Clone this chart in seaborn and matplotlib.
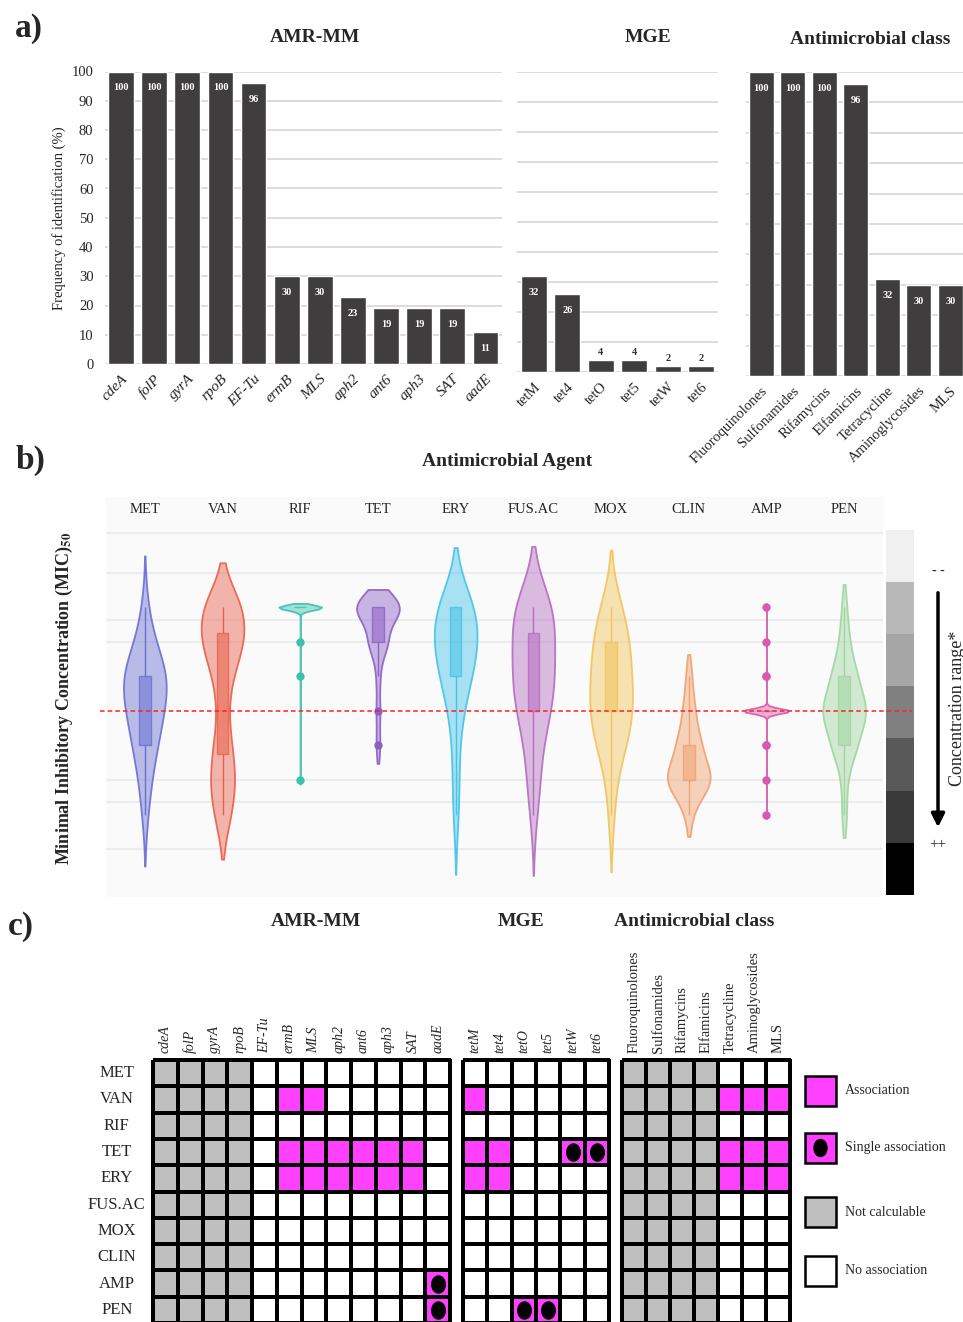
import numpy as np
import pandas as pd
import matplotlib
matplotlib.use("Agg")
import matplotlib.pyplot as plt
import seaborn as sns
from matplotlib.colors import ListedColormap, to_rgba
from matplotlib.patches import Rectangle, Ellipse, FancyArrowPatch
from matplotlib.lines import Line2D
from matplotlib.markers import MarkerStyle
from matplotlib.transforms import Affine2D, blended_transform_factory

W, H = 963, 1322

# ---------------- panel a: frequency of identification (%)
amr_genes = ["cdeA", "folP", "gyrA", "rpoB", "EF-Tu", "ermB", "MLS", "aph2", "ant6", "aph3", "SAT", "aadE"]
amr_freq = [100, 100, 100, 100, 96, 30, 30, 23, 19, 19, 19, 11]
mge_genes = ["tetM", "tet4", "tetO", "tet5", "tetW", "tet6"]
mge_freq = [32, 26, 4, 4, 2, 2]
classes = ["Fluoroquinolones", "Sulfonamides", "Rifamycins", "Elfamicins",
           "Tetracycline", "Aminoglycosides", "MLS"]
class_freq = [100, 100, 100, 96, 32, 30, 30]

# ---------------- panel b: MIC50 per agent (counts per log2 step around breakpoint)
agents = ["MET", "VAN", "RIF", "TET", "ERY", "FUS.AC", "MOX", "CLIN", "AMP", "PEN"]
mic_steps = [3, 2, 1, 0, -1, -2, -3]
met_counts = [1, 3, 8, 6, 4, 2, 1]
van_counts = [5, 5, 2, 1, 2, 3, 2]
rif_counts = [40, 1, 1, 0, 0, 1, 0]
tet_counts = [12, 5, 1, 1, 1, 0, 0]
ery_counts = [7, 7, 5, 2, 1, 1, 1]
fus_counts = [7, 5, 6, 5, 2, 2, 1]
mox_counts = [3, 5, 5, 6, 4, 1, 1]
clin_counts = [0, 0, 1, 2, 4, 8, 1]
amp_counts = [1, 1, 2, 40, 2, 1, 1]
pen_counts = [1, 2, 5, 9, 5, 1, 1]
agent_counts = [met_counts, van_counts, rif_counts, tet_counts, ery_counts,
                fus_counts, mox_counts, clin_counts, amp_counts, pen_counts]
conc_shades = [0.94, 0.72, 0.65, 0.50, 0.35, 0.23, 0.0]
grid_steps = [5.16, 4, 2.64, 2, -2, -2.64, -4]

# ---------------- panel c: association matrix
# 0 = no association, 1 = association, 2 = single association, 3 = not calculable
amr_assoc = [
    [3, 3, 3, 3, 0, 0, 0, 0, 0, 0, 0, 0],
    [3, 3, 3, 3, 0, 1, 1, 0, 0, 0, 0, 0],
    [3, 3, 3, 3, 0, 0, 0, 0, 0, 0, 0, 0],
    [3, 3, 3, 3, 0, 1, 1, 1, 1, 1, 1, 0],
    [3, 3, 3, 3, 0, 1, 1, 1, 1, 1, 1, 0],
    [3, 3, 3, 3, 0, 0, 0, 0, 0, 0, 0, 0],
    [3, 3, 3, 3, 0, 0, 0, 0, 0, 0, 0, 0],
    [3, 3, 3, 3, 0, 0, 0, 0, 0, 0, 0, 0],
    [3, 3, 3, 3, 0, 0, 0, 0, 0, 0, 0, 2],
    [3, 3, 3, 3, 0, 0, 0, 0, 0, 0, 0, 2],
]
mge_assoc = [
    [0, 0, 0, 0, 0, 0],
    [1, 0, 0, 0, 0, 0],
    [0, 0, 0, 0, 0, 0],
    [1, 1, 0, 0, 2, 2],
    [1, 1, 0, 0, 0, 0],
    [0, 0, 0, 0, 0, 0],
    [0, 0, 0, 0, 0, 0],
    [0, 0, 0, 0, 0, 0],
    [0, 0, 0, 0, 0, 0],
    [0, 0, 2, 2, 0, 0],
]
class_assoc = [
    [3, 3, 3, 3, 0, 0, 0],
    [3, 3, 3, 3, 1, 1, 1],
    [3, 3, 3, 3, 0, 0, 0],
    [3, 3, 3, 3, 1, 1, 1],
    [3, 3, 3, 3, 1, 1, 1],
    [3, 3, 3, 3, 0, 0, 0],
    [3, 3, 3, 3, 0, 0, 0],
    [3, 3, 3, 3, 0, 0, 0],
    [3, 3, 3, 3, 0, 0, 0],
    [3, 3, 3, 3, 0, 0, 0],
]
legend_labels = ["Association", "Single association", "Not calculable", "No association"]

# ---------------- styles
BAR = "#3f3d3e"
agent_colors = ["#6a6fd2", "#e9604a", "#3dbfae", "#8d60c6", "#45c3e9",
                "#b46cc0", "#f2c35a", "#f1a06e", "#d65aae", "#9fd6a0"]
violin_bw = [1.0, 0.6, 0.2, 0.7, 1.0, 1.0, 1.0, 0.9, 0.2, 0.8]
violin_cut = [2, 1.8, 1.5, 1.2, 2, 2, 2, 1.2, 1.5, 1.2]
box_whis = [(0, 100), (0, 100), 1.5, 1.5, (0, 100), (0, 100), (0, 100), (0, 100), 1.5, (0, 100)]
assoc_cmap = ListedColormap(["white", "#ff40ff", "#ff40ff", "#bfbfbf"])

sns.set_theme(style="white")
plt.rcParams["font.family"] = ["Liberation Serif", "DejaVu Serif"]
plt.rcParams["mathtext.fontset"] = "stix"


def fbox(x0, y0, x1, y1):
    return [x0 / W, 1 - y1 / H, (x1 - x0) / W, (y1 - y0) / H]


def fpt(x, y):
    return x / W, 1 - y / H


fig = plt.figure(figsize=(W / 100, H / 100), dpi=100)


def freq_bars(ax, names, values, italic, size, show_y):
    sns.barplot(x=names, y=values, color=BAR, width=0.78, saturation=1, ax=ax)
    ax.set_ylim(0, 100)
    ax.set_xlim(-0.5, len(names) - 0.5)
    ax.set_yticks(range(0, 101, 10))
    ax.yaxis.grid(True, color="#d9d9d9", lw=1.3)
    ax.set_axisbelow(True)
    for s in ax.spines.values():
        s.set_visible(False)
    ax.tick_params(length=0)
    ax.set_xticks(range(len(names)))
    ax.set_xticklabels(names, rotation=45, ha="right", rotation_mode="anchor",
                       fontsize=size, fontstyle="italic" if italic else "normal")
    ax.tick_params(axis="x", pad=6)
    if show_y:
        ax.tick_params(axis="y", labelsize=10.5, pad=8)
        ax.set_ylabel("Frequency of identification (%)", fontsize=10.5)
    else:
        ax.set_yticklabels([])
    cont = ax.containers[0]
    ax.bar_label(cont, labels=[str(v) if v >= 10 else "" for v in values],
                 padding=-15, color="white", fontsize=7.5, fontweight="bold")
    ax.bar_label(cont, labels=[str(v) if v < 10 else "" for v in values],
                 padding=2, color="#333333", fontsize=7.5, fontweight="bold")


ax1 = fig.add_axes(fbox(104.5, 71.5, 502, 364))
freq_bars(ax1, amr_genes, amr_freq, True, 11, True)
ax2 = fig.add_axes(fbox(517, 72, 718, 372))
freq_bars(ax2, mge_genes, mge_freq, False, 10.5, False)
ax3 = fig.add_axes(fbox(745.5, 72, 966, 376))
freq_bars(ax3, classes, class_freq, False, 10.5, False)

fig.text(*fpt(29, 28), "a)", fontsize=24, fontweight="bold", ha="center", va="center")
fig.text(*fpt(315, 38), "AMR-MM", fontsize=14, fontweight="bold", ha="center", va="center")
fig.text(*fpt(648, 38), "MGE", fontsize=14, fontweight="bold", ha="center", va="center")
fig.text(*fpt(870, 40), "Antimicrobial class", fontsize=14, fontweight="bold", ha="center", va="center")

# ---------------- panel b
rows = []
for name, counts in zip(agents, agent_counts):
    for step, n in zip(mic_steps, counts):
        rows += [(name, step)] * n
mic_df = pd.DataFrame(rows, columns=["agent", "mic"])

axg = fig.add_axes(fbox(886, 530, 914, 895))
axg.imshow(np.array(conc_shades).reshape(-1, 1), cmap="gray", vmin=0, vmax=1, aspect="auto")
axg.set_axis_off()

axb = fig.add_axes(fbox(106, 497, 883, 897))
axb.set_facecolor("#fafafa")
for g in grid_steps:
    axb.axhline(g, color="#ececec", lw=1.5, zorder=0)

for i, name in enumerate(agents):
    sub = mic_df[mic_df["agent"] == name]
    c = agent_colors[i]
    n0 = len(axb.collections)
    sns.violinplot(data=sub, x="agent", y="mic", order=agents, color=c, linecolor=c,
                   linewidth=1.3, inner=None, density_norm="width", width=0.55,
                   cut=violin_cut[i], bw_adjust=violin_bw[i], ax=axb)
    for coll in axb.collections[n0:]:
        coll.set_facecolor(to_rgba(c, 0.45))
        coll.set_edgecolor(to_rgba(c, 0.9))
    p0 = len(axb.patches)
    sns.boxplot(data=sub, x="agent", y="mic", order=agents, color=c, linecolor=c,
                width=0.15, linewidth=1, showcaps=False, whis=box_whis[i],
                medianprops=dict(linewidth=0),
                flierprops=dict(marker="o", markersize=5, markerfacecolor=c, markeredgecolor=c),
                ax=axb)
    for p in axb.patches[p0:]:
        p.set_facecolor(to_rgba(c, 0.55))
        p.set_edgecolor(to_rgba(c, 0.8))

axb.set_xlim(-0.5, len(agents) - 0.5)
axb.set_ylim(-5.39, 6.2)
axb.set_xticks(range(len(agents)))
axb.set_xticklabels(agents, fontsize=10.5)
axb.xaxis.tick_top()
axb.tick_params(axis="x", length=0, pad=-14)
axb.set_yticks([])
axb.set_xlabel("")
axb.set_ylabel("")
for s in axb.spines.values():
    s.set_visible(False)

tr = blended_transform_factory(fig.transFigure, axb.transData)
fig.add_artist(Line2D([100 / W, 912 / W], [0, 0], transform=tr, color="#ff2020",
                      ls=(0, (3, 2)), lw=1.1, zorder=10))
fig.add_artist(FancyArrowPatch(posA=fpt(938, 590), posB=fpt(938, 830), transform=fig.transFigure,
                               arrowstyle="-|>", mutation_scale=20, lw=2.5, color="black"))
fig.text(*fpt(938, 571), "- -", fontsize=10, ha="center", va="center")
fig.text(*fpt(938, 845), "++", fontsize=11, ha="center", va="center")
fig.text(*fpt(957, 708), "Concentration range*", fontsize=13, rotation=90, ha="center", va="center")
fig.text(*fpt(64, 698), r"Minimal Inhibitory Concentration (MIC)$_{\mathbf{50}}$", fontsize=13,
         fontweight="bold", rotation=90, ha="center", va="center")
fig.text(*fpt(30, 460), "b)", fontsize=24, fontweight="bold", ha="center", va="center")
fig.text(*fpt(507, 461), "Antimicrobial Agent", fontsize=14, fontweight="bold", ha="center", va="center")

# ---------------- panel c
def assoc_grid(ax, mat, cols, italic, show_rows):
    mat = np.array(mat)
    sns.heatmap(mat, cmap=assoc_cmap, vmin=-0.5, vmax=3.5, linewidths=1.5, linecolor="black",
                cbar=False, xticklabels=cols, yticklabels=agents if show_rows else False, ax=ax)
    for coll in ax.collections:
        coll.set_clip_on(False)
    ax.xaxis.tick_top()
    ax.set_xticklabels(cols, rotation=90, fontsize=10.5 if not italic else 10,
                       fontstyle="italic" if italic else "normal")
    ax.tick_params(axis="x", length=0, pad=5)
    if show_rows:
        ax.set_yticklabels(agents, rotation=0, fontsize=12, ha="center")
        ax.tick_params(axis="y", length=0, pad=26)
    r, k = np.where(mat == 2)
    dot = MarkerStyle("o", transform=Affine2D().scale(0.8, 1.0))
    ax.scatter(k + 0.5, r + 0.5, marker=dot, s=150, color="black", zorder=5, clip_on=False)


axc1 = fig.add_axes(fbox(153, 1060, 450, 1323))
assoc_grid(axc1, amr_assoc, amr_genes, True, True)
axc2 = fig.add_axes(fbox(463, 1060, 609, 1323))
assoc_grid(axc2, mge_assoc, mge_genes, True, False)
axc3 = fig.add_axes(fbox(622, 1060, 790, 1323))
assoc_grid(axc3, class_assoc, classes, False, False)

fig.text(*fpt(21, 926), "c)", fontsize=24, fontweight="bold", ha="center", va="center")
fig.text(*fpt(316, 922), "AMR-MM", fontsize=14, fontweight="bold", ha="center", va="center")
fig.text(*fpt(521, 922), "MGE", fontsize=14, fontweight="bold", ha="center", va="center")
fig.text(*fpt(694, 922), "Antimicrobial class", fontsize=14, fontweight="bold", ha="center", va="center")

# legend
axl = fig.add_axes(fbox(800, 1060, 963, 1300))
axl.set_xlim(800, 963)
axl.set_ylim(1300, 1060)
axl.set_axis_off()
leg_fill = ["#ff40ff", "#ff40ff", "#bfbfbf", "white"]
leg_y = [1091, 1148, 1212, 1271]
for lab, fc, yc in zip(legend_labels, leg_fill, leg_y):
    axl.add_patch(Rectangle((805, yc - 15), 31, 30, facecolor=fc, edgecolor="black", lw=1.8))
    axl.text(845, yc, lab, fontsize=10, va="center", ha="left")
axl.add_patch(Ellipse((820.5, leg_y[1]), 13, 17, color="black"))

fig.savefig("out.png", dpi=100)
